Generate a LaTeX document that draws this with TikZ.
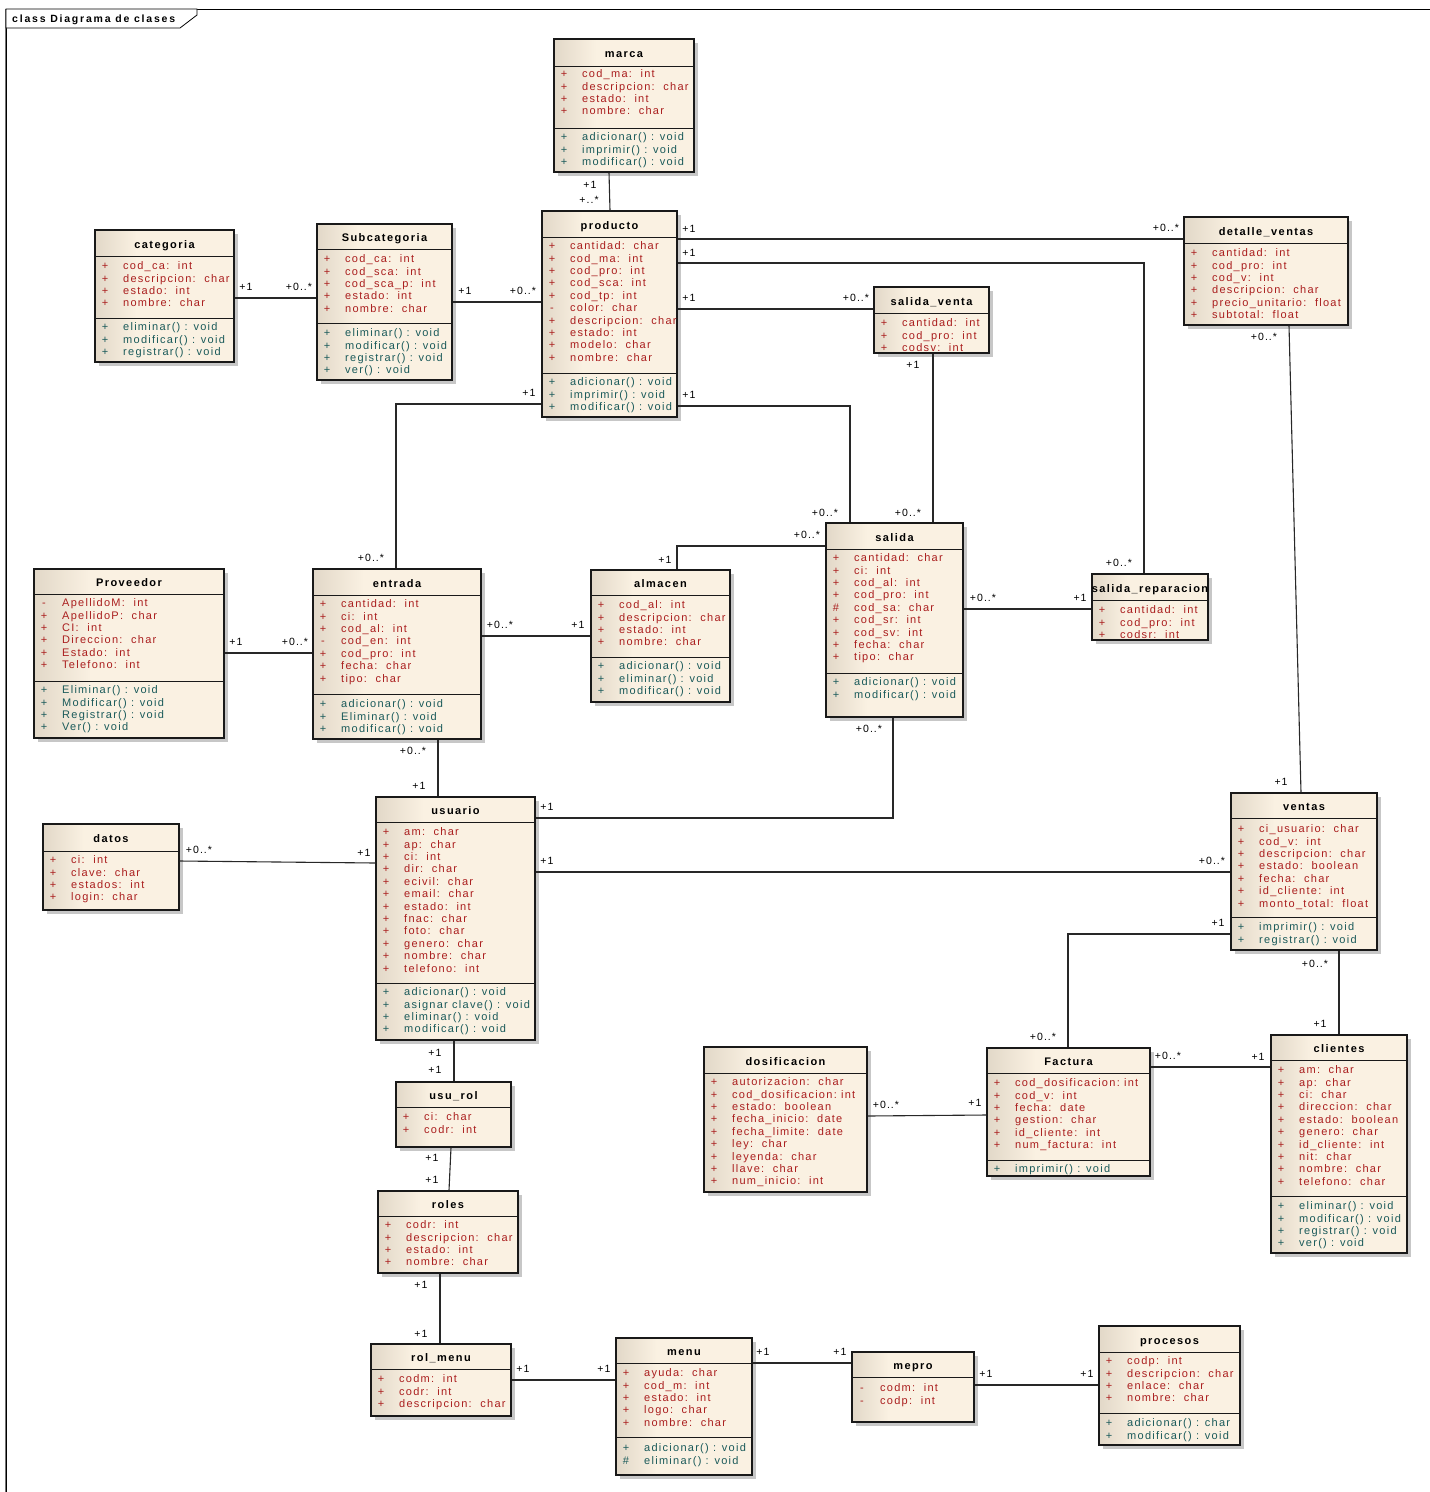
\documentclass[tikz,border=0pt]{standalone}
\usepackage{fontspec}
\setmainfont{Liberation Sans}
\newfontfamily\umlf[LetterSpace=11.5]{Liberation Sans}
\newfontfamily\umll[LetterSpace=10]{Liberation Sans}
\newfontfamily\umlt[LetterSpace=13]{Liberation Sans}
\newfontfamily\umlfr[LetterSpace=17]{Liberation Sans}
\usetikzlibrary{shadows,fit}
\definecolor{clsL}{RGB}{226,216,200}
\definecolor{clsR}{RGB}{250,241,226}
\definecolor{attrRed}{RGB}{170,30,30}
\definecolor{methTeal}{RGB}{26,90,90}
\definecolor{lineC}{RGB}{40,40,40}
\pgfdeclarehorizontalshading{clsshade}{100bp}{color(0bp)=(clsL); color(25bp)=(clsL); color(40bp)=(clsR); color(100bp)=(clsR)}
\tikzset{
  clsbox/.style={draw=black!90, line width=1.1pt, shading=clsshade, inner sep=0pt,
     drop shadow={shadow xshift=4pt, shadow yshift=-4pt, fill=black!22, opacity=1}},
  sepl/.style={draw=black!90, line width=1pt},
  ttl/.style={font=\umlt\bfseries\fontsize{11}{12}\selectfont, inner sep=0pt, text height=8pt, text depth=0pt, anchor=center},
  symn/.style={font=\umlf\fontsize{11}{12}\selectfont, inner sep=0pt, text height=7.5pt, text depth=0pt, anchor=center},
  txtn/.style={font=\umlf\fontsize{11}{12}\selectfont, inner sep=0pt, text height=7.5pt, text depth=0pt, anchor=west},
  lbl/.style={font=\umll\fontsize{10.5}{12}\selectfont, inner sep=0pt, text height=8pt, text depth=0pt, anchor=center, text=black},
  conn/.style={draw=lineC, line width=1.1pt},
}
% name, left, top, right, bottom, title, title separator y
\newcommand\umlclass[7]{%
  \node[clsbox, fit={(#2,#3) (#4,#5)}] (#1) {};
  \node[ttl] (#1-title) at ({(#2+#4)/2},{(#3+#7)/2+1}) {#6};
  \draw[sepl] (#2,#7) -- (#4,#7);
}
\newcommand\msep[3]{\draw[sepl] (#1,#3) -- (#2,#3);}
\newcommand\attrs[4]{%
  \foreach \sy/\tx [count=\i from 0] in {#4}{%
    \node[symn, text=attrRed] (#1-as\i) at ({#2+10},{#3+12.4*\i}) {\sy};
    \node[txtn, text=attrRed] (#1-a\i) at ({#2+28},{#3+12.4*\i}) {\tx};
  }}
\newcommand\meths[4]{%
  \foreach \sy/\tx [count=\i from 0] in {#4}{%
    \node[symn, text=methTeal] (#1-ms\i) at ({#2+10},{#3+12.4*\i}) {\sy};
    \node[txtn, text=methTeal] (#1-m\i) at ({#2+28},{#3+12.4*\i}) {\tx};
  }}
\begin{document}
\begin{tikzpicture}[x=1pt,y=-1pt]
\fill[white] (0,0) rectangle (1430,1492);
\useasboundingbox (0,0) rectangle (1430,1492);
% frame
\draw[line width=1.4pt, draw=black!55] (6,1492) -- (6,9);
\draw[line width=0.8pt] (6,1492) -- (6,9) -- (1430,9);
\draw[line width=0.8pt, fill=white] (6,9) -- (197,9) -- (197,15) -- (180,28) -- (6,28) -- cycle;
\node[font=\umlfr\bfseries\fontsize{10.5}{12}\selectfont, inner sep=0pt, text height=8pt, text depth=0pt, anchor=west] (framelabel) at (12,18) {class Diagrama de clases};

% ---------- classes ----------
\umlclass{categoria}{95}{230}{234}{362}{categoria}{256}
\msep{95}{234}{318}
\attrs{categoria}{95}{266}{+/cod\_ca:~~int, +/descripcion:~~char, +/estado:~~int, +/nombre:~~char}
\meths{categoria}{95}{327}{+/eliminar() : void, +/modificar() : void, +/registrar() : void}

\umlclass{subcategoria}{317}{224}{452}{380}{Subcategoria}{249}
\msep{317}{452}{323}
\attrs{subcategoria}{317}{259}{+/cod\_ca:~~int, +/cod\_sca:~~int, +/cod\_sca\_p:~~int, +/estado:~~int, +/nombre:~~char}
\meths{subcategoria}{317}{333}{+/eliminar() : void, +/modificar() : void, +/registrar() : void, +/ver() : void}

\umlclass{marca}{554}{39}{694}{172}{marca}{66}
\msep{554}{694}{128}
\attrs{marca}{554}{74}{+/cod\_ma:~~int, +/descripcion:~~char, +/estado:~~int, +/nombre:~~char}
\meths{marca}{554}{137}{+/adicionar() : void, +/imprimir() : void, +/modificar() : void}

\umlclass{producto}{542}{211}{677}{417}{producto}{237}
\msep{542}{677}{373}
\attrs{producto}{542}{246}{+/cantidad:~~char, +/cod\_ma:~~int, +/cod\_pro:~~int, +/cod\_sca:~~int, +/cod\_tp:~~int, -/color:~~char, +/descripcion:~~char, +/estado:~~int, +/modelo:~~char, +/nombre:~~char}
\meths{producto}{542}{382}{+/adicionar() : void, +/imprimir() : void, +/modificar() : void}

\umlclass{salidaventa}{874}{287}{989}{353}{salida\_venta}{313}
\attrs{salidaventa}{874}{323}{+/cantidad:~~int, +/cod\_pro:~~int, +/codsv:~~int}

\umlclass{detalleventas}{1184}{217}{1348}{325}{detalle\_ventas}{243}
\attrs{detalleventas}{1184}{253}{+/cantidad:~~int, +/cod\_pro:~~int, +/cod\_v:~~int, +/descripcion:~~char, +/precio\_unitario:~~float, +/subtotal:~~float}

\umlclass{proveedor}{34}{569}{224}{738}{Proveedor}{594}
\msep{34}{224}{681}
\attrs{proveedor}{34}{603}{-/ApellidoM:~~int, +/ApellidoP:~~char, +/CI:~~int, +/Direccion:~~char, +/Estado:~~int, +/Telefono:~~int}
\meths{proveedor}{34}{690}{+/Eliminar() : void, +/Modificar() : void, +/Registrar() : void, +/Ver() : void}

\umlclass{entrada}{313}{569}{481}{739}{entrada}{595}
\msep{313}{481}{694}
\attrs{entrada}{313}{604}{+/cantidad:~~int, +/ci:~~int, +/cod\_al:~~int, -/cod\_en:~~int, +/cod\_pro:~~int, +/fecha:~~char, +/tipo:~~char}
\meths{entrada}{313}{704}{+/adicionar() : void, +/Eliminar() : void, +/modificar() : void}

\umlclass{almacen}{591}{570}{730}{702}{almacen}{595}
\msep{591}{730}{657}
\attrs{almacen}{591}{605}{+/cod\_al:~~int, +/descripcion:~~char, +/estado:~~int, +/nombre:~~char}
\meths{almacen}{591}{666}{+/adicionar() : void, +/eliminar() : void, +/modificar() : void}

\umlclass{salida}{826}{523}{963}{717}{salida}{549}
\msep{826}{963}{673}
\attrs{salida}{826}{558}{+/cantidad:~~char, +/ci:~~int, +/cod\_al:~~int, +/cod\_pro:~~int, \#/cod\_sa:~~char, +/cod\_sr:~~int, +/cod\_sv:~~int, +/fecha:~~char, +/tipo:~~char}
\meths{salida}{826}{682}{+/adicionar() : void, +/modificar() : void}

\umlclass{salidarep}{1092}{574}{1208}{640}{salida\_reparacion}{600}
\attrs{salidarep}{1092}{610}{+/cantidad:~~int, +/cod\_pro:~~int, +/codsr:~~int}

\umlclass{datos}{43}{824}{179}{910}{datos}{851}
\attrs{datos}{43}{860}{+/ci:~~int, +/clave:~~char, +/estados:~~int, +/login:~~char}

\umlclass{usuario}{376}{797}{535}{1040}{usuario}{822}
\msep{376}{535}{983}
\attrs{usuario}{376}{832}{+/am:~~char, +/ap:~~char, +/ci:~~int, +/dir:~~char, +/ecivil:~~char, +/email:~~char, +/estado:~~int, +/fnac:~~char, +/foto:~~char, +/genero:~~char, +/nombre:~~char, +/telefono:~~int}
\meths{usuario}{376}{992}{+/adicionar() : void, +/asignar clave() : void, +/eliminar() : void, +/modificar() : void}

\umlclass{ventas}{1231}{793}{1377}{950}{ventas}{818}
\msep{1231}{1377}{917}
\attrs{ventas}{1231}{829}{+/ci\_usuario:~~char, +/cod\_v:~~int, +/descripcion:~~char, +/estado:~~boolean, +/fecha:~~char, +/id\_cliente:~~int, +/monto\_total:~~float}
\meths{ventas}{1231}{927}{+/imprimir() : void, +/registrar() : void}

\umlclass{clientes}{1271}{1035}{1407}{1253}{clientes}{1060}
\msep{1271}{1407}{1196}
\attrs{clientes}{1271}{1070}{+/am:~~char, +/ap:~~char, +/ci:~~char, +/direccion:~~char, +/estado:~~boolean, +/genero:~~char, +/id\_cliente:~~int, +/nit:~~char, +/nombre:~~char, +/telefono:~~char}
\meths{clientes}{1271}{1206}{+/eliminar() : void, +/modificar() : void, +/registrar() : void, +/ver() : void}

\umlclass{dosificacion}{704}{1047}{867}{1192}{dosificacion}{1073}
\attrs{dosificacion}{704}{1082}{+/autorizacion:~~char, +/cod\_dosificacion:~int, +/estado:~~boolean, +/fecha\_inicio:~~date, +/fecha\_limite:~~date, +/ley:~~char, +/leyenda:~~char, +/llave:~~char, +/num\_inicio:~~int}

\umlclass{factura}{987}{1048}{1150}{1176}{Factura}{1073}
\msep{987}{1150}{1160}
\attrs{factura}{987}{1083}{+/cod\_dosificacion:~int, +/cod\_v:~~int, +/fecha:~~date, +/gestion:~~char, +/id\_cliente:~~int, +/num\_factura:~~int}
\meths{factura}{987}{1169}{+/imprimir() : void}

\umlclass{usurol}{396}{1082}{511}{1147}{usu\_rol}{1107}
\attrs{usurol}{396}{1117}{+/ci:~~char, +/codr:~~int}

\umlclass{roles}{378}{1191}{518}{1273}{roles}{1216}
\attrs{roles}{378}{1225}{+/codr:~~int, +/descripcion:~~char, +/estado:~~int, +/nombre:~~char}

\umlclass{rolmenu}{371}{1344}{511}{1416}{rol\_menu}{1369}
\attrs{rolmenu}{371}{1379}{+/codm:~~int, +/codr:~~int, +/descripcion:~~char}

\umlclass{menu}{616}{1338}{752}{1475}{menu}{1363}
\msep{616}{752}{1437}
\attrs{menu}{616}{1373}{+/ayuda:~~char, +/cod\_m:~~int, +/estado:~~int, +/logo:~~char, +/nombre:~~char}
\meths{menu}{616}{1448}{+/adicionar() : void, \#/eliminar() : void}

\umlclass{mepro}{852}{1352}{974}{1422}{mepro}{1377}
\attrs{mepro}{852}{1388}{-/codm:~~int, -/codp:~~int}

\umlclass{procesos}{1099}{1326}{1240}{1445}{procesos}{1352}
\msep{1099}{1240}{1413}
\attrs{procesos}{1099}{1361}{+/codp:~~int, +/descripcion:~~char, +/enlace:~~char, +/nombre:~~char}
\meths{procesos}{1099}{1423}{+/adicionar() : char, +/modificar() : void}

% ---------- connectors ----------
\draw[conn] (categoria.east |- 0,298) -- (subcategoria.west |- 0,298);
\draw[conn] (subcategoria.east |- 0,302) -- (producto.west |- 0,302);
\draw[conn] (marca.south -| 609,0) -- (producto.north -| 610,0);
\draw[conn] (producto.east |- 0,239) -- (detalleventas.west |- 0,239);
\draw[conn] (producto.east |- 0,263) -| (salidarep.north -| 1144,0);
\draw[conn] (producto.east |- 0,309) -- (salidaventa.west |- 0,309);
\draw[conn] (producto.east |- 0,406) -| (salida.north -| 850,0);
\draw[conn] (producto.west |- 0,404) -| (entrada.north -| 396,0);
\draw[conn] (salidaventa.south -| 933,0) -- (salida.north -| 933,0);
\draw[conn] (detalleventas.south -| 1289,0) -- (ventas.north -| 1301,0);
\draw[conn] (proveedor.east |- 0,653) -- (entrada.west |- 0,653);
\draw[conn] (entrada.east |- 0,636) -- (almacen.west |- 0,636);
\draw[conn] (entrada.south -| 438,0) -- (usuario.north -| 438,0);
\draw[conn] (almacen.north -| 677,0) |- (salida.west |- 0,546);
\draw[conn] (salida.east |- 0,609) -- (salidarep.west |- 0,609);
\draw[conn] (salida.south -| 893,0) |- (usuario.east |- 0,818);
\draw[conn] (datos.east |- 0,861) -- (usuario.west |- 0,863);
\draw[conn] (usuario.east |- 0,872) -- (ventas.west |- 0,872);
\draw[conn] (usuario.south -| 454,0) -- (usurol.north -| 454,0);
\draw[conn] (usurol.south -| 451,0) -- (roles.north -| 449,0);
\draw[conn] (roles.south -| 440,0) -- (rolmenu.north -| 440,0);
\draw[conn] (rolmenu.east |- 0,1380) -- (menu.west |- 0,1380);
\draw[conn] (menu.east |- 0,1363) -- (mepro.west |- 0,1363);
\draw[conn] (mepro.east |- 0,1385) -- (procesos.west |- 0,1385);
\draw[conn] (ventas.west |- 0,934) -| (factura.north -| 1068,0);
\draw[conn] (ventas.south -| 1339,0) -- (clientes.north -| 1339,0);
\draw[conn] (factura.east |- 0,1067) -- (clientes.west |- 0,1067);
\draw[conn] (dosificacion.east |- 0,1116) -- (factura.west |- 0,1115);

% ---------- multiplicity labels ----------
\node[lbl] (m1) at (246,286) {+1};
\node[lbl] (m2) at (299,286) {+0..*};
\node[lbl] (m3) at (465,290) {+1};
\node[lbl] (m4) at (523,290) {+0..*};
\node[lbl] (m5) at (590,184) {+1};
\node[lbl] (m6) at (589,199) {+..*};
\node[lbl] (m7) at (689,228) {+1};
\node[lbl] (m8) at (1166,227) {+0..*};
\node[lbl] (m9) at (689,252) {+1};
\node[lbl] (m10) at (1119,562) {+0..*};
\node[lbl] (m11) at (689,297) {+1};
\node[lbl] (m12) at (856,297) {+0..*};
\node[lbl] (m13) at (689,394) {+1};
\node[lbl] (m14) at (825,512) {+0..*};
\node[lbl] (m15) at (529,392) {+1};
\node[lbl] (m16) at (371,557) {+0..*};
\node[lbl] (m17) at (913,364) {+1};
\node[lbl] (m18) at (908,512) {+0..*};
\node[lbl] (m19) at (1264,336) {+0..*};
\node[lbl] (m20) at (1281,781) {+1};
\node[lbl] (m21) at (236,641) {+1};
\node[lbl] (m22) at (295,641) {+0..*};
\node[lbl] (m23) at (500,624) {+0..*};
\node[lbl] (m24) at (578,624) {+1};
\node[lbl] (m25) at (413,750) {+0..*};
\node[lbl] (m26) at (419,785) {+1};
\node[lbl] (m27) at (665,559) {+1};
\node[lbl] (m28) at (807,534) {+0..*};
\node[lbl] (m29) at (983,597) {+0..*};
\node[lbl] (m30) at (1080,597) {+1};
\node[lbl] (m31) at (869,728) {+0..*};
\node[lbl] (m32) at (547,806) {+1};
\node[lbl] (m33) at (199,849) {+0..*};
\node[lbl] (m34) at (364,852) {+1};
\node[lbl] (m35) at (547,860) {+1};
\node[lbl] (m36) at (1212,860) {+0..*};
\node[lbl] (m37) at (435,1052) {+1};
\node[lbl] (m38) at (435,1069) {+1};
\node[lbl] (m39) at (432,1157) {+1};
\node[lbl] (m40) at (432,1179) {+1};
\node[lbl] (m41) at (421,1284) {+1};
\node[lbl] (m42) at (421,1333) {+1};
\node[lbl] (m43) at (523,1368) {+1};
\node[lbl] (m44) at (604,1368) {+1};
\node[lbl] (m45) at (763,1351) {+1};
\node[lbl] (m46) at (840,1351) {+1};
\node[lbl] (m47) at (986,1373) {+1};
\node[lbl] (m48) at (1087,1373) {+1};
\node[lbl] (m49) at (1218,922) {+1};
\node[lbl] (m50) at (1043,1036) {+0..*};
\node[lbl] (m51) at (1315,963) {+0..*};
\node[lbl] (m52) at (1320,1023) {+1};
\node[lbl] (m53) at (1168,1055) {+0..*};
\node[lbl] (m54) at (1258,1056) {+1};
\node[lbl] (m55) at (886,1104) {+0..*};
\node[lbl] (m56) at (975,1102) {+1};
\end{tikzpicture}
\end{document}
